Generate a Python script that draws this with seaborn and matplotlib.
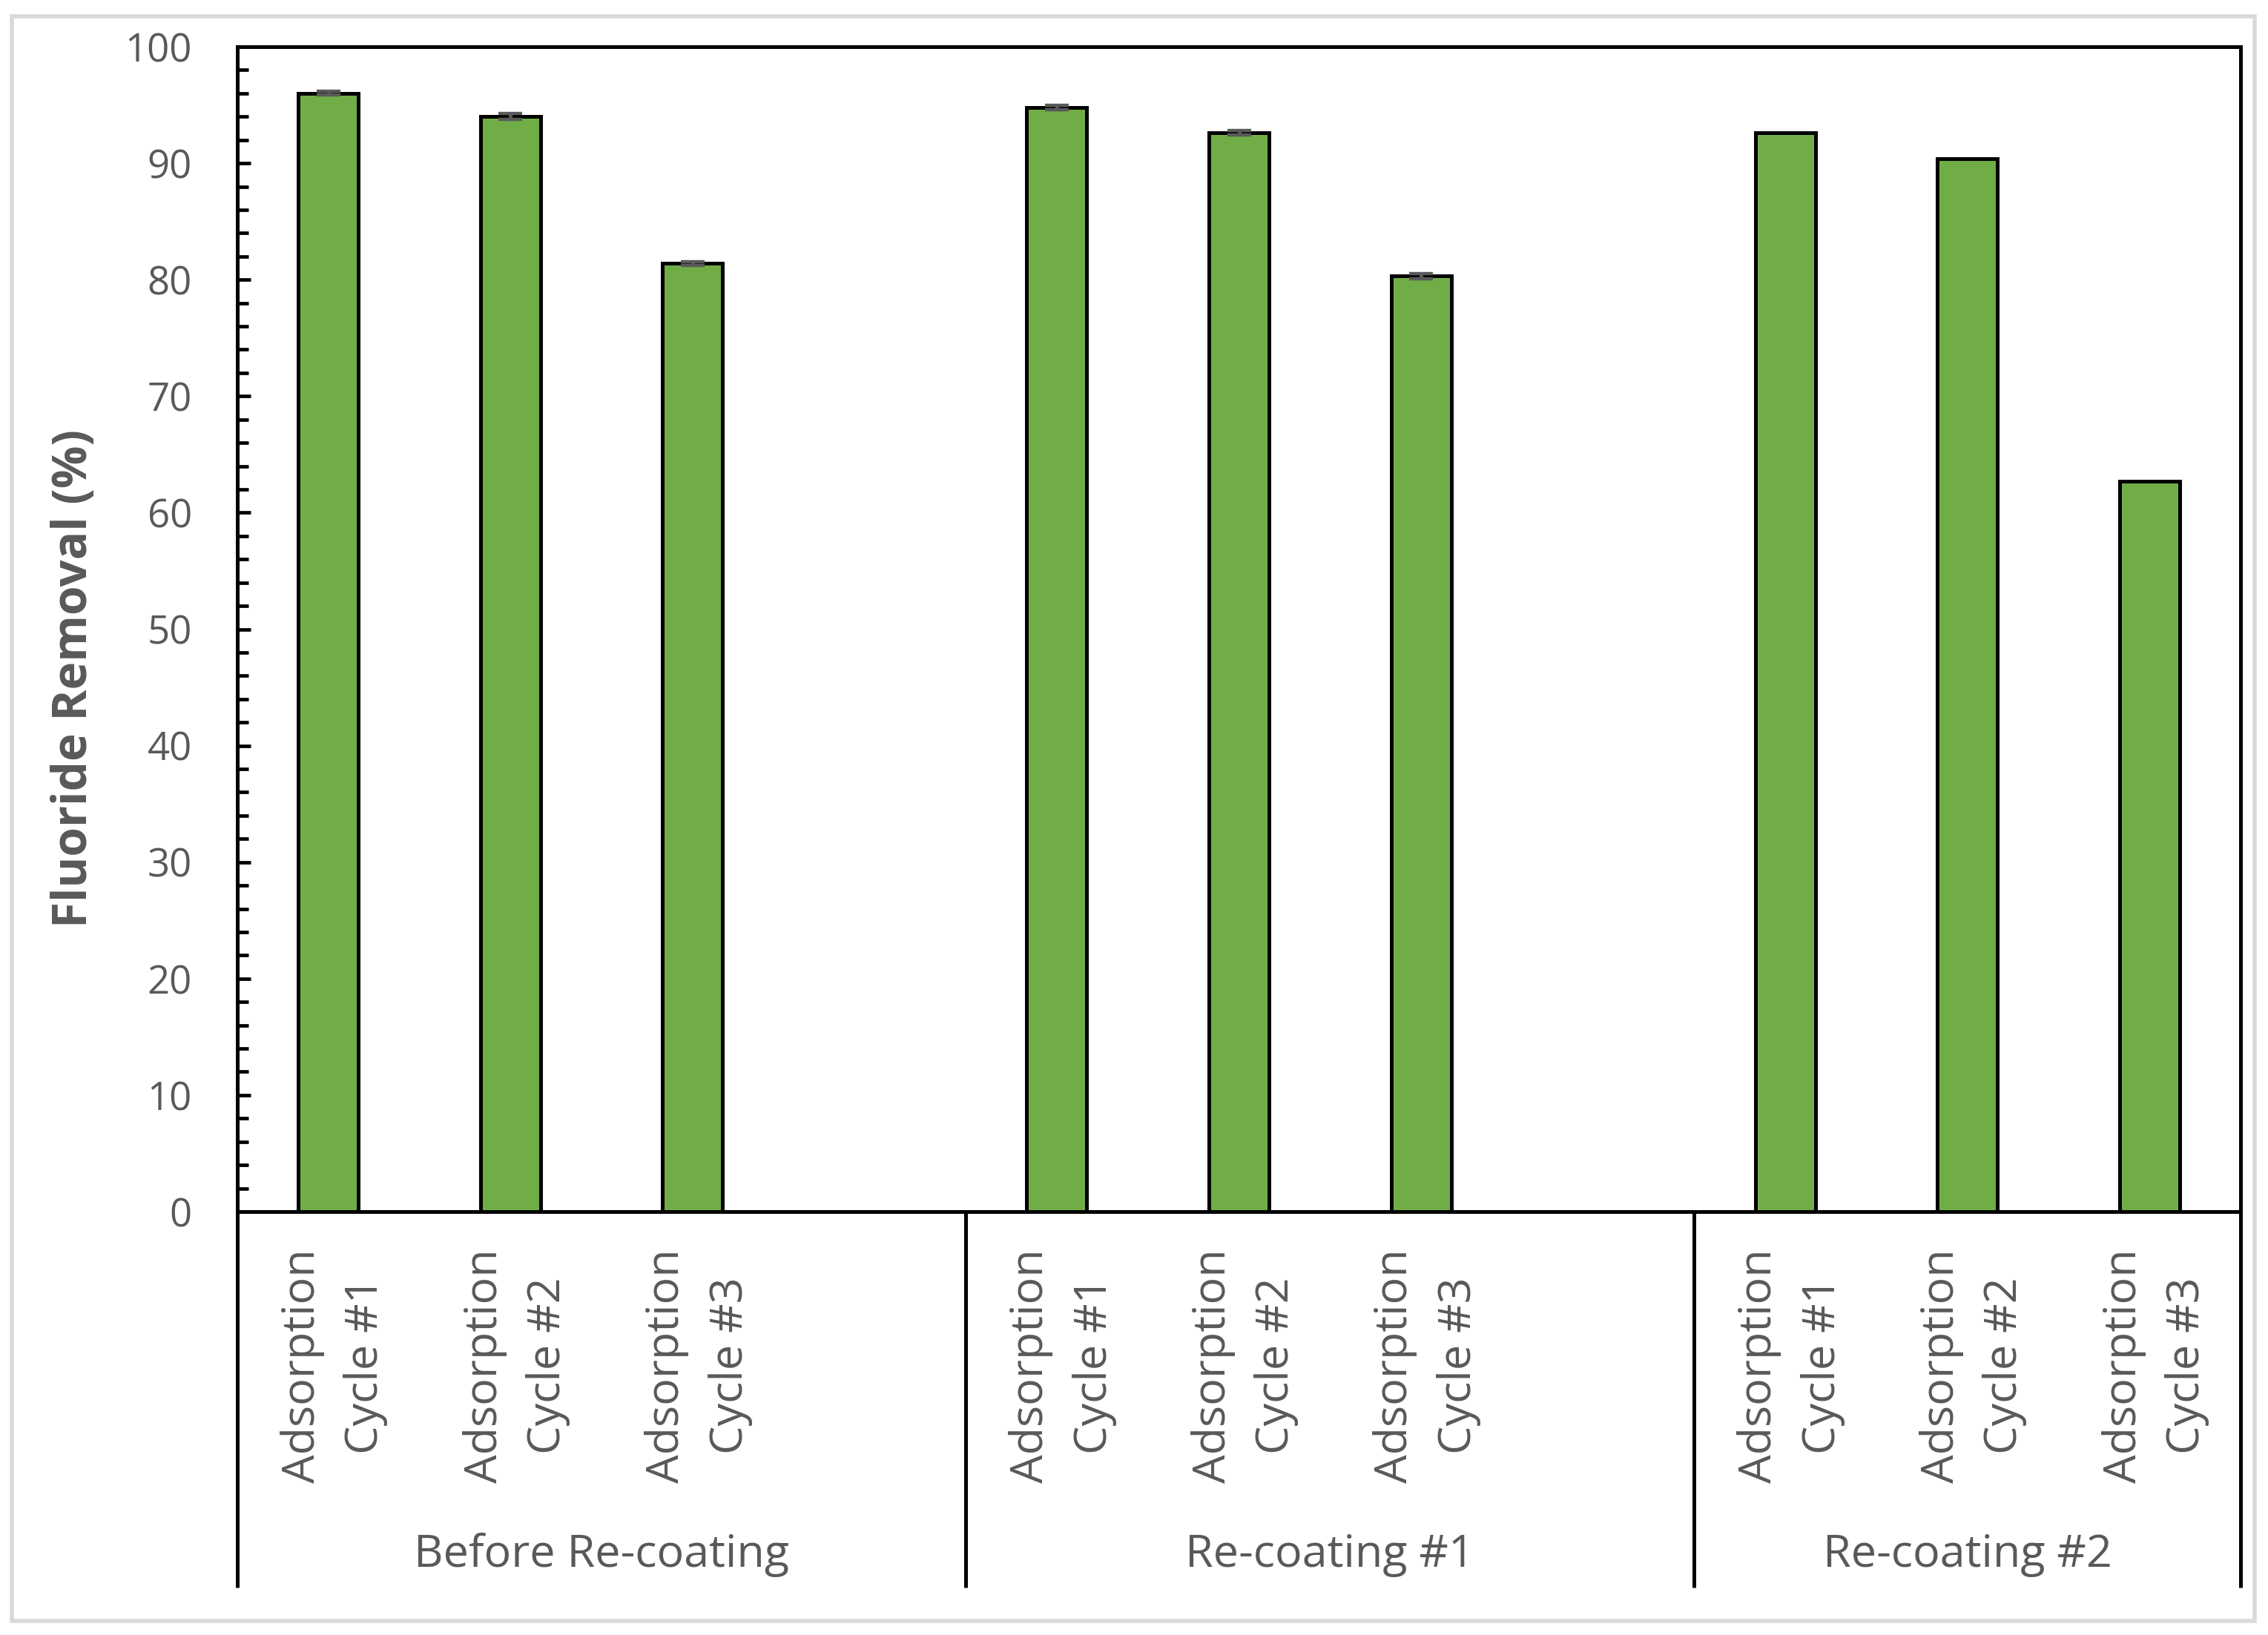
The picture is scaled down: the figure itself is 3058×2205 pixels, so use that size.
import matplotlib
matplotlib.use("Agg")
import matplotlib.pyplot as plt
import matplotlib.transforms as mtransforms
from matplotlib.patches import Rectangle
from matplotlib.lines import Line2D
from matplotlib.ticker import MultipleLocator
import numpy as np
import pandas as pd
import seaborn as sns

# ---------------- data ----------------
groups = ["Before Re-coating", "Re-coating #1", "Re-coating #2"]
cycles = ["Adsorption\nCycle #1", "Adsorption\nCycle #2", "Adsorption\nCycle #3"]
removal_before = [96.0, 94.0, 81.4]
removal_rc1 = [94.8, 92.6, 80.3]
removal_rc2 = [92.6, 90.4, 62.7]
err_before = [0.15, 0.25, 0.15]
err_rc1 = [0.2, 0.2, 0.2]
err_rc2 = [np.nan, np.nan, np.nan]
y_ticks = [0, 10, 20, 30, 40, 50, 60, 70, 80, 90, 100]
y_label = "Fluoride Removal (%)"

GREEN = "#70AD47"
GREY = "#595959"

sns.set_style("white")
plt.rcParams["font.family"] = ["Open Sans", "DejaVu Sans"]

rows = []
for g, vals, errs in zip(groups, [removal_before, removal_rc1, removal_rc2],
                         [err_before, err_rc1, err_rc2]):
    for c, v, e in zip(cycles, vals, errs):
        rows.append({"group": g, "cycle": c, "key": f"{g}|{c}", "removal": v, "err": e})
df = pd.DataFrame(rows)

# category order, with an empty slot after the first two groups
order = []
for gi, g in enumerate(groups):
    order += [f"{g}|{c}" for c in cycles]
    if gi < len(groups) - 1:
        order.append(f"spacer{gi}")

W, H, DPI = 3058, 2205, 200
TOP, BOT, LEFT, RIGHT = 63, 1634, 320, 3021
fig = plt.figure(figsize=(W / DPI, H / DPI), dpi=DPI)
ax = fig.add_axes([LEFT / W, 1 - BOT / H, (RIGHT - LEFT) / W, (BOT - TOP) / H])

sns.barplot(data=df, x="key", y="removal", order=order, color=GREEN,
            saturation=1, width=0.33, edgecolor="black", linewidth=1.8,
            errorbar=None, ax=ax, zorder=2)

xs = [order.index(k) for k in df["key"]]
ax.errorbar(xs, df["removal"], yerr=df["err"], fmt="none", ecolor=GREY,
            elinewidth=1.8, capsize=5.6, capthick=1.6, zorder=4)

ax.set_xlim(-0.5, len(order) - 0.5)
ax.set_ylim(0, 100)
ax.set_yticks(y_ticks)
ax.yaxis.set_minor_locator(MultipleLocator(2))
ax.set_xlabel("")
ax.set_ylabel("")
ax.set_xticks([])

for s in ax.spines.values():
    s.set_visible(True)
    s.set_color("black")
    s.set_linewidth(1.8)

ax.tick_params(axis="y", which="both", left=True, direction="in", color="black",
               width=1.7)
ax.tick_params(axis="y", which="major", length=6.5, labelsize=19,
               labelcolor=GREY, pad=22)
ax.tick_params(axis="y", which="minor", length=5.4)
ax.tick_params(axis="x", bottom=False, labelbottom=False)

trans = mtransforms.blended_transform_factory(ax.transData, ax.transAxes)
shift = trans + mtransforms.ScaledTranslation(8 / DPI, 0, fig.dpi_scale_trans)
hpx = BOT - TOP

# category labels (rotated) under each bar
for k, c in zip(df["key"], df["cycle"]):
    ax.text(order.index(k), (BOT - 1684) / hpx, c, transform=shift, rotation=90,
            ha="center", va="top", multialignment="center", fontsize=22,
            color=GREY, linespacing=1.55)

# group labels and separators
bounds = []
for g in groups:
    start = order.index(f"{g}|{cycles[0]}") - 0.5
    bounds.append(start)
bounds.append(len(order) - 0.5)
for i, g in enumerate(groups):
    mid = (bounds[i] + bounds[i + 1]) / 2
    ax.text(mid, (BOT - 2097) / hpx, g, transform=trans, ha="center",
            va="center", fontsize=22, color=GREY)
for b in bounds:
    ax.add_line(Line2D([b, b], [0, (BOT - 2141) / hpx], transform=trans,
                       color="black", linewidth=1.8, clip_on=False,
                       solid_capstyle="butt"))

ax.text((101 - LEFT) / (RIGHT - LEFT), (BOT - 915) / hpx, y_label,
        transform=ax.transAxes, rotation=90, ha="center", va="center",
        fontsize=23, fontweight="bold", color=GREY)

# chart-area border
fig.patches.append(Rectangle((16 / W, 19 / H), (3040 - 16) / W, (2183 - 19) / H,
                             transform=fig.transFigure, fill=False,
                             edgecolor="#D9D9D9", linewidth=2.0))

fig.savefig("out.png", dpi=DPI, facecolor="white")
